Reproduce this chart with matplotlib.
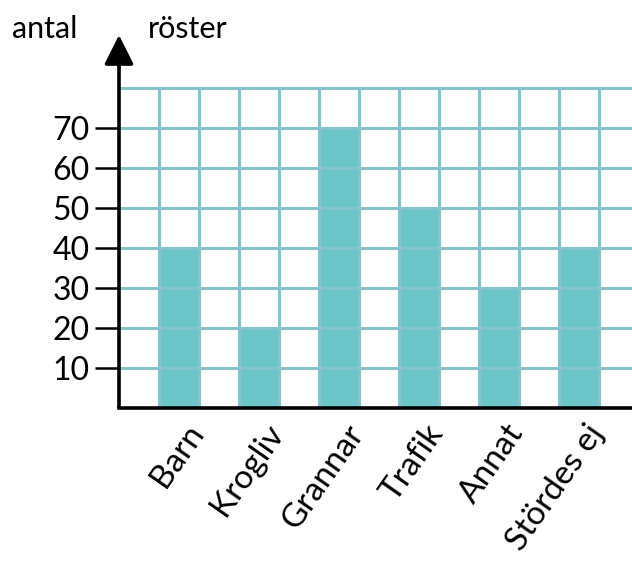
import matplotlib
matplotlib.use("Agg")
import matplotlib.pyplot as plt
import numpy as np

categories = ["Barn", "Krogliv", "Grannar", "Trafik", "Annat", "Stördes ej"]
values = [40, 20, 70, 50, 30, 40]
yticks = [10, 20, 30, 40, 50, 60, 70]
grid_y = [10, 20, 30, 40, 50, 60, 70, 80]

plt.rcParams['font.family'] = ['Lato', 'DejaVu Sans']

W, H = 632, 563
fig = plt.figure(figsize=(W / 100, H / 100), dpi=100)
x0, y0 = 119, 408
ytop = 35
ax = fig.add_axes([x0 / W, (H - y0) / H, (W - x0) / W, (y0 - ytop) / H])
xmax = (W - x0) / 40.0
ymax = (y0 - ytop) / 4.0
ax.set_xlim(0, xmax)
ax.set_ylim(0, ymax)

gridc = '#88C3CC'
barc = '#6CC5C8'
centers = np.arange(len(categories)) * 2 + 1.5
ax.bar(centers, values, width=1.0, color=barc, zorder=1)

# grid
for gy in grid_y:
    ax.plot([0, xmax], [gy, gy], color=gridc, lw=2.2, zorder=2, solid_capstyle='butt')
for gx in range(1, 13):
    ax.plot([gx, gx], [0, grid_y[-1]], color=gridc, lw=2.2, zorder=2, solid_capstyle='butt')

for s in ['top', 'right']:
    ax.spines[s].set_visible(False)
ax.spines['left'].set_visible(False)
ax.spines['bottom'].set_linewidth(2.6)
ax.spines['bottom'].set_zorder(4)

# y axis with arrow
ax.plot([0, 0], [0, ymax - 5], color='black', lw=2.6, zorder=5, clip_on=False,
        solid_capstyle='butt')
ax.annotate('', xy=(0, ymax), xytext=(0, ymax - 8),
            arrowprops=dict(arrowstyle='-|>,head_length=1.8,head_width=0.9',
                            color='black', lw=2.6, shrinkA=0, shrinkB=0),
            zorder=6, annotation_clip=False)

ax.set_yticks(yticks)
ax.set_yticklabels([str(v) for v in yticks], fontsize=23)
ax.tick_params(axis='y', length=17, width=1.8, pad=4, direction='out')
ax.set_xticks(centers)
ax.set_xticklabels(categories, fontsize=24, rotation=55, ha='right',
                   rotation_mode='anchor')
ax.tick_params(axis='x', length=0, pad=8)
for lbl in ax.get_xticklabels():
    lbl.set_transform(lbl.get_transform() + matplotlib.transforms.ScaledTranslation(0.06, 0, fig.dpi_scale_trans))

fig.text(12 / W, 1 - 29 / H, 'antal', fontsize=22, va='center', ha='left')
fig.text(148 / W, 1 - 29 / H, 'röster', fontsize=22, va='center', ha='left')

fig.savefig('out.png', dpi=100)
